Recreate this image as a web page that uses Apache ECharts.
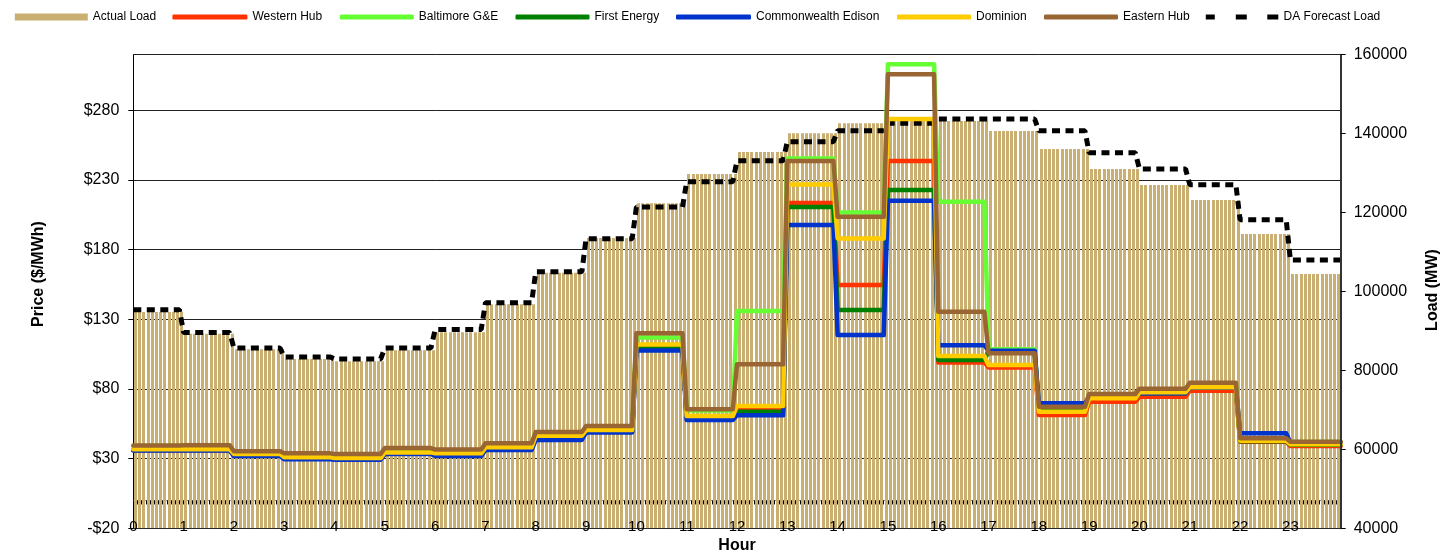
<!DOCTYPE html>
<html><head><meta charset="utf-8">
<script src="https://cdn.jsdelivr.net/npm/echarts@6/dist/echarts.min.js"></script>
<style>html,body{margin:0;padding:0;background:#fff}#c{width:1451px;height:553px}</style>
</head><body><div id="c"></div><script>
// ---------------- data ----------------
const hourLabels = ['0','1','2','3','4','5','6','7','8','9','10','11','12','13','14','15','16','17','18','19','20','21','22','23'];
const priceTicks = [-20, 30, 80, 130, 180, 230, 280];
const loadTicks = [40000, 60000, 80000, 100000, 120000, 140000, 160000];

const actualLoad   = [94800, 89300, 85350, 82900, 82300, 85100, 89700, 96750, 104770, 113560, 122350, 129770, 135350, 140090, 142600, 144000, 143200, 140670, 136100, 131040, 126990, 123180, 114570, 104440];
const forecastLoad = [95400, 89600, 85680, 83400, 82900, 85680, 90400, 97160, 105000, 113380, 121400, 127820, 133150, 137960, 140740, 142600, 143700, 143700, 140700, 135170, 131040, 127060, 118190, 107980];

const westernHub  = [36.0, 36.0, 32.5, 30.2, 29.6, 33.7, 32.7, 37.2, 45.2, 49.6, 110.5, 59.5, 66.0, 213.5, 154.6, 243.6, 99.1, 95.5, 61.3, 70.9, 74.4, 78.8, 42.2, 39.0];
const baltimoreGE = [39.0, 39.1, 34.8, 33.3, 32.8, 37.1, 36.0, 40.5, 48.6, 53.0, 117.0, 64.5, 136.0, 245.5, 206.8, 313.2, 214.4, 108.5, 67.0, 76.0, 79.8, 84.0, 44.2, 42.0];
const firstEnergy = [36.3, 36.3, 32.8, 30.5, 30.0, 34.0, 33.0, 37.5, 45.5, 49.8, 110.0, 59.8, 63.7, 210.6, 136.7, 222.8, 100.8, 107.0, 65.0, 74.0, 77.0, 81.0, 42.5, 40.0];
const comEd       = [35.8, 35.8, 31.9, 29.6, 29.2, 33.3, 31.9, 36.2, 43.4, 48.8, 107.7, 57.7, 61.1, 197.7, 118.7, 215.1, 111.5, 107.5, 69.7, 74.0, 77.0, 81.0, 48.2, 41.5];
const dominion    = [36.7, 36.7, 33.3, 31.0, 30.4, 34.5, 33.8, 38.1, 46.5, 50.5, 112.0, 60.6, 67.8, 226.9, 188.1, 273.8, 103.7, 97.2, 63.7, 73.3, 77.6, 81.2, 42.9, 40.3];
const easternHub  = [39.5, 39.6, 35.3, 33.8, 33.3, 37.6, 36.5, 41.0, 49.1, 53.5, 120.0, 65.4, 97.7, 243.6, 203.6, 306.0, 135.5, 105.6, 67.3, 76.4, 80.2, 84.5, 44.6, 42.2];

// ---------------- styling ----------------
const FONT = '"Liberation Sans", Arial, Helvetica, sans-serif';
const TAN = '#C9AF72';
const RAMP = 1 / 12;          // 5-minute transition between hourly values
const SLOTS_PER_HOUR = 12;    // hatch stripes per hour
const N = hourLabels.length;

function rampPoints(vals) {
  const pts = [];
  for (let h = 0; h < vals.length; h++) {
    pts.push([h, vals[h]]);
    pts.push([h === vals.length - 1 ? vals.length : h + 1 - RAMP, vals[h]]);
  }
  return pts;
}
function stepPoints(vals) {
  const pts = vals.map((v, h) => [h, v]);
  pts.push([vals.length, vals[vals.length - 1]]);
  return pts;
}
function fmtPrice(v) {
  if (!priceTicks.includes(v)) return '';
  return v < 0 ? '-$' + (-v) : '$' + v;
}

const priceSeries = [
  { name: 'Western Hub', data: westernHub, color: '#FF3300' },
  { name: 'Baltimore G&E', data: baltimoreGE, color: '#66FF33' },
  { name: 'First Energy', data: firstEnergy, color: '#008000' },
  { name: 'Commonwealth Edison', data: comEd, color: '#0033CC' },
  { name: 'Dominion', data: dominion, color: '#FFCC00' },
  { name: 'Eastern Hub', data: easternHub, color: '#996633' }
];

const legendSpec = [
  { name: 'Actual Load', left: 14.8, w: 73, h: 7, icon: 'rect', color: TAN },
  { name: 'Western Hub', left: 172.4, w: 75, h: 5, icon: 'roundRect', color: '#FF3300' },
  { name: 'Baltimore G&E', left: 339.8, w: 74, h: 5, icon: 'roundRect', color: '#66FF33' },
  { name: 'First Energy', left: 515.5, w: 74, h: 5, icon: 'roundRect', color: '#008000' },
  { name: 'Commonwealth Edison', left: 676, w: 75, h: 5, icon: 'roundRect', color: '#0033CC' },
  { name: 'Dominion', left: 897, w: 74, h: 5, icon: 'roundRect', color: '#FFCC00' },
  { name: 'Eastern Hub', left: 1044, w: 74, h: 5, icon: 'roundRect', color: '#996633' },
  { name: 'DA Forecast Load', left: 1205.8, w: 73, h: 5, icon: 'path://M0 0h9v5h-9zM30 0h11v5h-11zM61.5 0h11v5h-11z', color: '#000' }
];

const series = [{
  id: 'load', name: 'Actual Load', type: 'line', yAxisIndex: 1, step: 'end',
  symbol: 'none', silent: true, color: TAN,
  lineStyle: { width: 0, opacity: 0 },
  areaStyle: { color: TAN, opacity: 1 },
  data: stepPoints(actualLoad), z: 1
}];
priceSeries.forEach(s => series.push({
  name: s.name, type: 'line', yAxisIndex: 0, symbol: 'none', silent: true,
  color: s.color, lineStyle: { width: 4.5, color: s.color, cap: 'round', join: 'round' },
  data: rampPoints(s.data), z: 3
}));
series.push({
  name: 'DA Forecast Load', type: 'line', yAxisIndex: 1, symbol: 'none', silent: true,
  color: '#000', lineStyle: { width: 5, color: '#000', type: [8, 5.5] },
  data: rampPoints(forecastLoad), z: 2
});

const option = {
  animation: false,
  backgroundColor: '#fff',
  textStyle: { fontFamily: FONT },
  grid: { left: 133.3, right: 110.3, top: 54.7, bottom: 24.7, containLabel: false },
  legend: legendSpec.map(s => ({
    data: [{ name: s.name, icon: s.icon, itemStyle: { color: s.color, borderWidth: 0 } }],
    left: s.left, top: 11, padding: 0, itemWidth: s.w, itemHeight: s.h,
    selectedMode: false,
    textStyle: { fontSize: 12, color: '#000', fontFamily: FONT }
  })),
  xAxis: [{
    type: 'value', min: 0, max: N, interval: 1, position: 'bottom', z: 10,
    axisLine: { show: false, onZero: false }, axisTick: { show: false },
    splitLine: { show: false },
    axisLabel: { fontSize: 15, color: '#000', margin: -9, showMaxLabel: false,
      formatter: v => (hourLabels[v] !== undefined ? hourLabels[v] : '') }
  }, {
    type: 'value', min: 0, max: N * SLOTS_PER_HOUR, interval: 1, position: 'bottom',
    axisLine: { show: true, onZero: true, onZeroAxisIndex: 0, lineStyle: { color: '#888', width: 1 } },
    axisTick: { show: true, length: 4, lineStyle: { color: '#000', width: 1 } },
    axisLabel: { show: false }, splitLine: { show: false }
  }],
  yAxis: [{
    type: 'value', min: -20, max: 320, interval: 50, position: 'left',
    axisLine: { show: true, onZero: false, lineStyle: { color: '#000', width: 1 } },
    axisTick: { show: true, length: 5, lineStyle: { color: '#000' } },
    axisLabel: { fontSize: 16, color: '#000', margin: 14, formatter: fmtPrice, showMaxLabel: false },
    splitLine: { show: true, showMinLine: true, showMaxLine: true, lineStyle: { color: '#222', width: 1 } }
  }, {
    type: 'value', min: 40000, max: 160000, interval: 20000, position: 'right', z: 10,
    axisLine: { show: true, onZero: false, lineStyle: { color: '#333', width: 2 } },
    axisTick: { show: true, length: 5, lineStyle: { color: '#000' } },
    axisLabel: { fontSize: 16, color: '#000', margin: 13,
      formatter: v => (loadTicks.includes(v) ? String(v) : '') },
    splitLine: { show: false }
  }],
  graphic: [
    { type: 'text', x: 39, y: 274, rotation: Math.PI / 2,
      style: { text: 'Price ($/MWh)', font: 'bold 16px ' + FONT, fill: '#000', align: 'center', verticalAlign: 'middle', textAlign: 'center', textVerticalAlign: 'middle' } },
    { type: 'text', x: 1432.5, y: 290, rotation: Math.PI / 2,
      style: { text: 'Load (MW)', font: 'bold 16px ' + FONT, fill: '#000', align: 'center', verticalAlign: 'middle', textAlign: 'center', textVerticalAlign: 'middle' } },
    { type: 'text', x: 737, y: 546,
      style: { text: 'Hour', font: 'bold 16px ' + FONT, fill: '#000', align: 'center', verticalAlign: 'middle', textAlign: 'center', textVerticalAlign: 'middle' } }
  ],
  series: series
};

const chart = echarts.init(document.getElementById('c'), null, { renderer: 'canvas' });
chart.setOption(option);

// Vertical hatch fill for the Actual Load area, aligned to the 5-minute slots of the x axis
const px0 = chart.convertToPixel({ xAxisIndex: 0 }, 0);
const px1 = chart.convertToPixel({ xAxisIndex: 0 }, N);
const nSlots = N * SLOTS_PER_HOUR;
const period = (px1 - px0) / nSlots;
const cv = document.createElement('canvas');
cv.width = chart.getWidth();
cv.height = 4;
const cx = cv.getContext('2d');
cx.fillStyle = TAN;
for (let k = 0; k < nSlots; k++) {
  const xs = Math.round(px0 + k * period + 0.8);
  cx.fillRect(xs, 0, 3, 4);
}
chart.setOption({ series: [{ id: 'load', areaStyle: { color: { image: cv, repeat: 'repeat' }, opacity: 1 } }] });
</script></body></html>
